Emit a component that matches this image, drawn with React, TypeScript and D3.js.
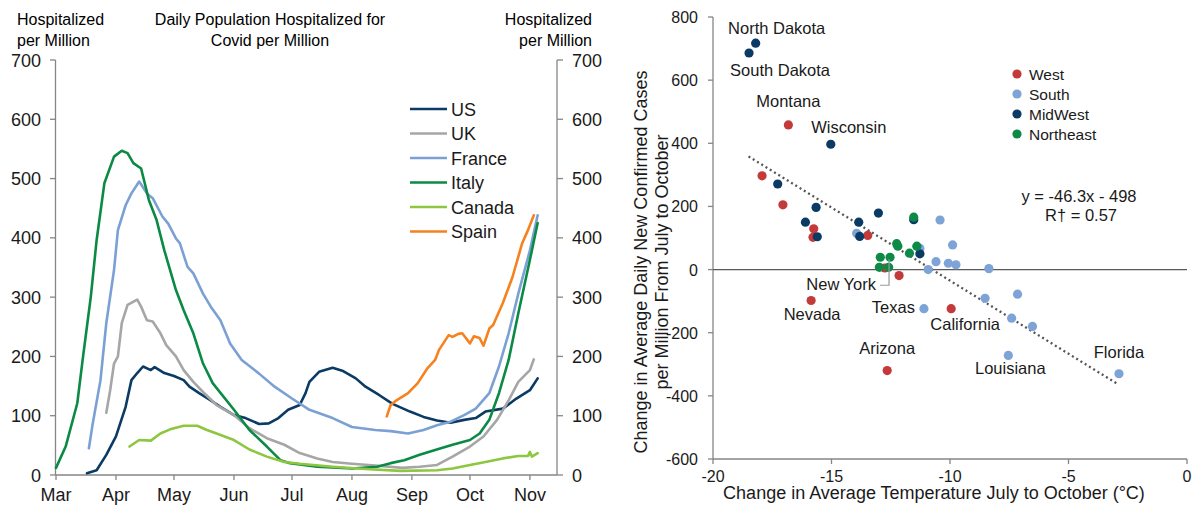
import React from "react";
import * as d3 from "d3";

// ---------- Left chart data (hospitalized per million) ----------
const usData: [string, number][] = [
  ["2020-03-17", 3], ["2020-03-22", 8], ["2020-03-27", 34], ["2020-04-01", 65], ["2020-04-06", 115],
  ["2020-04-09", 160], ["2020-04-12", 172], ["2020-04-15", 183], ["2020-04-19", 177], ["2020-04-21", 182],
  ["2020-04-26", 172], ["2020-05-01", 167], ["2020-05-06", 160], ["2020-05-09", 149], ["2020-05-14", 138],
  ["2020-05-20", 126], ["2020-05-25", 115], ["2020-06-01", 101], ["2020-06-07", 96], ["2020-06-14", 86],
  ["2020-06-19", 87], ["2020-06-24", 96], ["2020-06-29", 110], ["2020-07-05", 118], ["2020-07-08", 138],
  ["2020-07-10", 157], ["2020-07-15", 174], ["2020-07-22", 181], ["2020-07-27", 176], ["2020-08-03", 163],
  ["2020-08-08", 149], ["2020-08-15", 135], ["2020-08-22", 120], ["2020-08-31", 107], ["2020-09-07", 98],
  ["2020-09-14", 92], ["2020-09-21", 88], ["2020-09-28", 93], ["2020-10-04", 96], ["2020-10-09", 107],
  ["2020-10-18", 112], ["2020-10-25", 129], ["2020-11-01", 143], ["2020-11-05", 163],
];
const ukData: [string, number][] = [
  ["2020-03-27", 105], ["2020-03-29", 143], ["2020-03-31", 188], ["2020-04-02", 200], ["2020-04-04", 256],
  ["2020-04-07", 287], ["2020-04-12", 296], ["2020-04-14", 284], ["2020-04-17", 261], ["2020-04-20", 259],
  ["2020-04-24", 239], ["2020-04-27", 219], ["2020-05-02", 200], ["2020-05-06", 177], ["2020-05-11", 157],
  ["2020-05-16", 140], ["2020-05-23", 118], ["2020-06-01", 101], ["2020-06-09", 79], ["2020-06-18", 62],
  ["2020-06-27", 51], ["2020-07-05", 37], ["2020-07-14", 28], ["2020-07-22", 22], ["2020-08-01", 19],
  ["2020-08-13", 16], ["2020-08-27", 12], ["2020-09-05", 14], ["2020-09-14", 17], ["2020-09-22", 31],
  ["2020-10-01", 48], ["2020-10-08", 65], ["2020-10-15", 93], ["2020-10-21", 126], ["2020-10-26", 157],
  ["2020-11-01", 177], ["2020-11-03", 195],
];
const franceData: [string, number][] = [
  ["2020-03-18", 45], ["2020-03-20", 87], ["2020-03-24", 160], ["2020-03-27", 256], ["2020-03-31", 346],
  ["2020-04-02", 413], ["2020-04-06", 455], ["2020-04-09", 475], ["2020-04-13", 495], ["2020-04-17", 475],
  ["2020-04-20", 467], ["2020-04-25", 436], ["2020-04-28", 424], ["2020-05-02", 399], ["2020-05-04", 391],
  ["2020-05-08", 351], ["2020-05-11", 340], ["2020-05-16", 306], ["2020-05-20", 284], ["2020-05-25", 261],
  ["2020-05-30", 222], ["2020-06-05", 194], ["2020-06-14", 171], ["2020-06-22", 149], ["2020-07-01", 129],
  ["2020-07-10", 110], ["2020-07-22", 96], ["2020-08-01", 81], ["2020-08-13", 76], ["2020-08-21", 74],
  ["2020-08-30", 70], ["2020-09-07", 76], ["2020-09-14", 84], ["2020-09-21", 90], ["2020-09-28", 101],
  ["2020-10-04", 112], ["2020-10-11", 138], ["2020-10-16", 183], ["2020-10-21", 239], ["2020-10-26", 306],
  ["2020-11-01", 379], ["2020-11-05", 438],
];
const italyData: [string, number][] = [
  ["2020-03-01", 12], ["2020-03-06", 48], ["2020-03-12", 121], ["2020-03-15", 200], ["2020-03-19", 301],
  ["2020-03-22", 396], ["2020-03-26", 492], ["2020-03-31", 537], ["2020-04-04", 547], ["2020-04-07", 543],
  ["2020-04-10", 526], ["2020-04-14", 517], ["2020-04-18", 464], ["2020-04-22", 430], ["2020-04-26", 379],
  ["2020-05-02", 312], ["2020-05-06", 278], ["2020-05-11", 239], ["2020-05-16", 188], ["2020-05-21", 155],
  ["2020-06-01", 110], ["2020-06-09", 76], ["2020-06-18", 48], ["2020-06-25", 25], ["2020-06-30", 20],
  ["2020-07-14", 14], ["2020-08-01", 11], ["2020-08-14", 14], ["2020-08-21", 20], ["2020-08-28", 25],
  ["2020-09-05", 34], ["2020-09-13", 42], ["2020-09-22", 51], ["2020-10-01", 59], ["2020-10-06", 70],
  ["2020-10-11", 93], ["2020-10-16", 138], ["2020-10-21", 194], ["2020-10-26", 273], ["2020-11-01", 363],
  ["2020-11-05", 425],
];
const canadaData: [string, number][] = [
  ["2020-04-08", 48], ["2020-04-13", 59], ["2020-04-19", 58], ["2020-04-24", 70], ["2020-04-29", 77],
  ["2020-05-06", 83], ["2020-05-13", 83], ["2020-05-18", 76], ["2020-05-23", 70], ["2020-06-01", 59],
  ["2020-06-09", 43], ["2020-06-18", 31], ["2020-06-27", 22], ["2020-07-05", 19], ["2020-07-22", 14],
  ["2020-08-08", 10], ["2020-08-26", 7], ["2020-09-14", 8], ["2020-09-22", 11], ["2020-10-01", 17],
  ["2020-10-09", 22], ["2020-10-18", 28], ["2020-10-26", 32], ["2020-10-31", 32], ["2020-11-01", 39],
  ["2020-11-02", 31], ["2020-11-05", 37],
];
const spainData: [string, number][] = [
  ["2020-08-19", 99], ["2020-08-21", 118], ["2020-08-24", 126], ["2020-08-30", 138], ["2020-09-04", 155],
  ["2020-09-09", 180], ["2020-09-13", 194], ["2020-09-15", 211], ["2020-09-20", 236], ["2020-09-22", 233],
  ["2020-09-25", 238], ["2020-09-27", 239], ["2020-10-01", 222], ["2020-10-03", 234], ["2020-10-06", 231],
  ["2020-10-08", 218], ["2020-10-11", 247], ["2020-10-13", 253], ["2020-10-18", 290], ["2020-10-23", 334],
  ["2020-10-28", 391], ["2020-10-31", 413], ["2020-11-03", 438],
];
const seriesNames = ["US", "UK", "France", "Italy", "Canada", "Spain"];
const seriesColors = ["#0b3a64", "#a6a6a6", "#7ba0d4", "#0b8a45", "#8dc63f", "#f5821f"];
const seriesData = [usData, ukData, franceData, italyData, canadaData, spainData];
const leftYTicks = [0, 100, 200, 300, 400, 500, 600, 700];

// ---------- Right chart data (scatter) ----------
const westPoints: [number, number][] = [
  [-16.82, 458], [-17.93, 297], [-17.05, 205], [-15.75, 129], [-15.78, 102], [-13.47, 108],
  [-12.75, 5], [-12.15, -19], [-15.86, -98], [-9.95, -124], [-12.65, -320],
];
const southPoints: [number, number][] = [
  [-13.94, 115], [-10.42, 157], [-11.27, 67], [-9.89, 78], [-10.59, 25], [-10.07, 20], [-9.75, 15],
  [-10.92, 0], [-8.36, 3], [-8.52, -91], [-7.15, -78], [-11.1, -124], [-7.4, -154], [-6.52, -180],
  [-7.54, -272], [-2.87, -330],
];
const midwestPoints: [number, number][] = [
  [-18.2, 717], [-18.48, 686], [-15.03, 397], [-17.27, 271], [-15.65, 197], [-16.1, 150], [-15.6, 104],
  [-13.85, 150], [-13.81, 105], [-13.02, 179], [-11.53, 158], [-11.27, 50],
];
const northeastPoints: [number, number][] = [
  [-11.53, 166], [-12.25, 82], [-12.2, 74], [-11.71, 52], [-11.4, 74], [-12.94, 39], [-12.53, 39],
  [-12.98, 7], [-12.59, 7],
];
const regionNames = ["West", "South", "MidWest", "Northeast"];
const regionColors = ["#c43a3b", "#7ea3d6", "#0b3a64", "#0d8a47"];
const regionPoints = [westPoints, southPoints, midwestPoints, northeastPoints];
// labelled states: [name, x, y]
const stateLabels: [string, number, number][] = [
  ["North Dakota", -18.2, 717], ["South Dakota", -18.48, 686], ["Montana", -16.82, 458],
  ["Wisconsin", -15.03, 397], ["Nevada", -15.86, -98], ["Texas", -11.1, -124],
  ["Arizona", -12.65, -320], ["California", -9.95, -124], ["Louisiana", -7.54, -272],
  ["Florida", -2.87, -330],
];
const newYorkPoint: [number, number] = [-12.53, 39];
const trendSlope = -46.3;
const trendIntercept = -498;
const trendRange = [-18.5, -2.9];
const rightXTicks = [-20, -15, -10, -5, 0];
const rightYTicks = [-600, -400, -200, 0, 200, 400, 600, 800];

const FONT = "'Liberation Sans', Arial, Helvetica, sans-serif";
const AXIS = "#868686";

const labelOffsets: Record<string, [number, number, string]> = {
  "North Dakota": [21, -9, "middle"],
  "South Dakota": [31, 23, "middle"],
  Montana: [0, -18, "middle"],
  Wisconsin: [18, -11, "middle"],
  Nevada: [1, 19, "middle"],
  Texas: [-9, 4, "end"],
  Arizona: [0, -17, "middle"],
  California: [14, 21, "middle"],
  Louisiana: [2, 19, "middle"],
  Florida: [0, -16, "middle"],
};

export default function App() {
  const parse = d3.timeParse("%Y-%m-%d");
  const x = d3
    .scaleTime()
    .domain([new Date(2020, 2, 1), new Date(2020, 10, 15)])
    .range([56, 557]);
  const y = d3.scaleLinear().domain([0, 700]).range([475, 60]);
  const months = d3.timeMonth.range(new Date(2020, 2, 1), new Date(2020, 10, 2));
  const fmt = d3.timeFormat("%b");
  const line = d3
    .line<[string, number]>()
    .x((d) => x(parse(d[0]) as Date))
    .y((d) => y(d[1]));

  const sx = d3.scaleLinear().domain([-20, 0]).range([713, 1187]);
  const sy = d3.scaleLinear().domain([-600, 800]).range([459, 17]);
  const nyX = sx(newYorkPoint[0]);
  const nyY = sy(newYorkPoint[1]);

  return (
    <svg
      width={1194}
      height={510}
      style={{ position: "absolute", left: 0, top: 0, background: "#fff" }}
      fontFamily={FONT}
    >
      <rect x={0} y={0} width={1194} height={510} fill="#fff" />
      {/* ---------------- Left chart ---------------- */}
      <g fontSize={16} fill="#000">
        <text x={17} y={25}>Hospitalized</text>
        <text x={17} y={46}>per Million</text>
        <text x={270} y={25} textAnchor="middle">Daily Population Hospitalized for</text>
        <text x={270} y={46} textAnchor="middle">Covid per Million</text>
        <text x={592} y={25} textAnchor="end">Hospitalized</text>
        <text x={592} y={46} textAnchor="end">per Million</text>
      </g>
      {/* axes */}
      <g stroke={AXIS} strokeWidth={1.3} fill="none">
        <line x1={55.5} y1={y(700)} x2={55.5} y2={y(0)} />
        <line x1={557} y1={y(700)} x2={557} y2={y(0)} />
        <line x1={55.5} y1={y(0)} x2={557} y2={y(0)} />
        {leftYTicks.map((t) => (
          <g key={t}>
            <line x1={50} x2={55.5} y1={y(t)} y2={y(t)} />
            <line x1={557} x2={563} y1={y(t)} y2={y(t)} />
          </g>
        ))}
        {months.map((m) => (
          <line key={m.getTime()} x1={x(m)} x2={x(m)} y1={y(0)} y2={y(0) + 5} />
        ))}
      </g>
      <g fontSize={18} fill="#1a1a1a">
        {leftYTicks.map((t) => (
          <g key={t}>
            <text x={41} y={y(t) + 6.5} textAnchor="end">{t}</text>
            <text x={572} y={y(t) + 6.5}>{t}</text>
          </g>
        ))}
        {months.map((m) => (
          <text key={m.getTime()} x={x(m)} y={501} textAnchor="middle">{fmt(m)}</text>
        ))}
      </g>
      {/* series lines */}
      <g fill="none" strokeWidth={2.6} strokeLinejoin="round" strokeLinecap="round">
        {seriesData.map((s, i) => (
          <path key={seriesNames[i]} d={line(s) || ""} stroke={seriesColors[i]} />
        ))}
      </g>
      {/* legend */}
      <g fontSize={18} fill="#1a1a1a">
        {seriesNames.map((n, i) => {
          const ly = 109 + i * 24.5;
          return (
            <g key={n}>
              <line x1={410} x2={447} y1={ly} y2={ly} stroke={seriesColors[i]} strokeWidth={2.6} />
              <text x={451} y={ly + 6.5}>{n}</text>
            </g>
          );
        })}
      </g>

      {/* ---------------- Right chart ---------------- */}
      <g stroke={AXIS} strokeWidth={1.3} fill="none">
        <line x1={sx(-20)} y1={sy(800)} x2={sx(-20)} y2={sy(-600)} />
        <line x1={sx(-20)} y1={sy(-600)} x2={sx(0)} y2={sy(-600)} />
        {rightYTicks.map((t) => (
          <line key={t} x1={sx(-20) - 5} x2={sx(-20)} y1={sy(t)} y2={sy(t)} />
        ))}
        {rightXTicks.map((t) => (
          <line key={t} x1={sx(t)} x2={sx(t)} y1={sy(-600)} y2={sy(-600) + 5} />
        ))}
      </g>
      <line x1={sx(-20)} x2={sx(0)} y1={sy(0)} y2={sy(0)} stroke="#5a5a5a" strokeWidth={1.3} />
      <g fontSize={16} fill="#1a1a1a">
        {rightYTicks.map((t) => (
          <text key={t} x={698} y={sy(t) + 6} textAnchor="end">{t}</text>
        ))}
        {rightXTicks.map((t) => (
          <text key={t} x={sx(t)} y={482} textAnchor="middle">{t}</text>
        ))}
      </g>
      <text x={934} y={499} fontSize={18} textAnchor="middle" fill="#1a1a1a">
        Change in Average Temperature July to October (°C)
      </text>
      <g fontSize={18} fill="#1a1a1a">
        <text transform="translate(647,262) rotate(-90)" textAnchor="middle">
          Change in Average Daily New Confirmed Cases
        </text>
        <text transform="translate(668,262) rotate(-90)" textAnchor="middle">
          per Million From July to October
        </text>
      </g>
      {/* trend line */}
      <line
        x1={sx(trendRange[0])}
        y1={sy(trendSlope * trendRange[0] + trendIntercept)}
        x2={sx(trendRange[1])}
        y2={sy(trendSlope * trendRange[1] + trendIntercept)}
        stroke="#555"
        strokeWidth={2.3}
        strokeDasharray="2 3"
      />
      {/* points */}
      {[1, 0, 2, 3].map((ri) => (
        <g key={regionNames[ri]} fill={regionColors[ri]}>
          {regionPoints[ri].map((p, j) => (
            <circle key={j} cx={sx(p[0])} cy={sy(p[1])} r={4.6} />
          ))}
        </g>
      ))}
      {/* New York leader */}
      <polyline
        points={`${nyX - 10},${nyY + 28} ${nyX - 1},${nyY + 28} ${nyX - 1},${nyY + 2}`}
        fill="none"
        stroke="#999"
        strokeWidth={1.2}
      />
      <g fontSize={16.5} fill="#1a1a1a">
        <text x={nyX - 14} y={nyY + 33} textAnchor="end">New York</text>
        {stateLabels.map(([n, lx, ly]) => {
          const o = labelOffsets[n];
          return (
            <text key={n} x={sx(lx) + o[0]} y={sy(ly) + o[1]} textAnchor={o[2] as any}>
              {n}
            </text>
          );
        })}
        <text x={1079} y={202} textAnchor="middle">y = -46.3x - 498</text>
        <text x={1081} y={221} textAnchor="middle">R† = 0.57</text>
      </g>
      {/* legend */}
      <g fontSize={15.5} fill="#1a1a1a">
        {regionNames.map((n, i) => (
          <g key={n}>
            <circle cx={1017} cy={74 + i * 20} r={4.6} fill={regionColors[i]} />
            <text x={1029} y={74 + i * 20 + 5.5}>{n}</text>
          </g>
        ))}
      </g>
    </svg>
  );
}
